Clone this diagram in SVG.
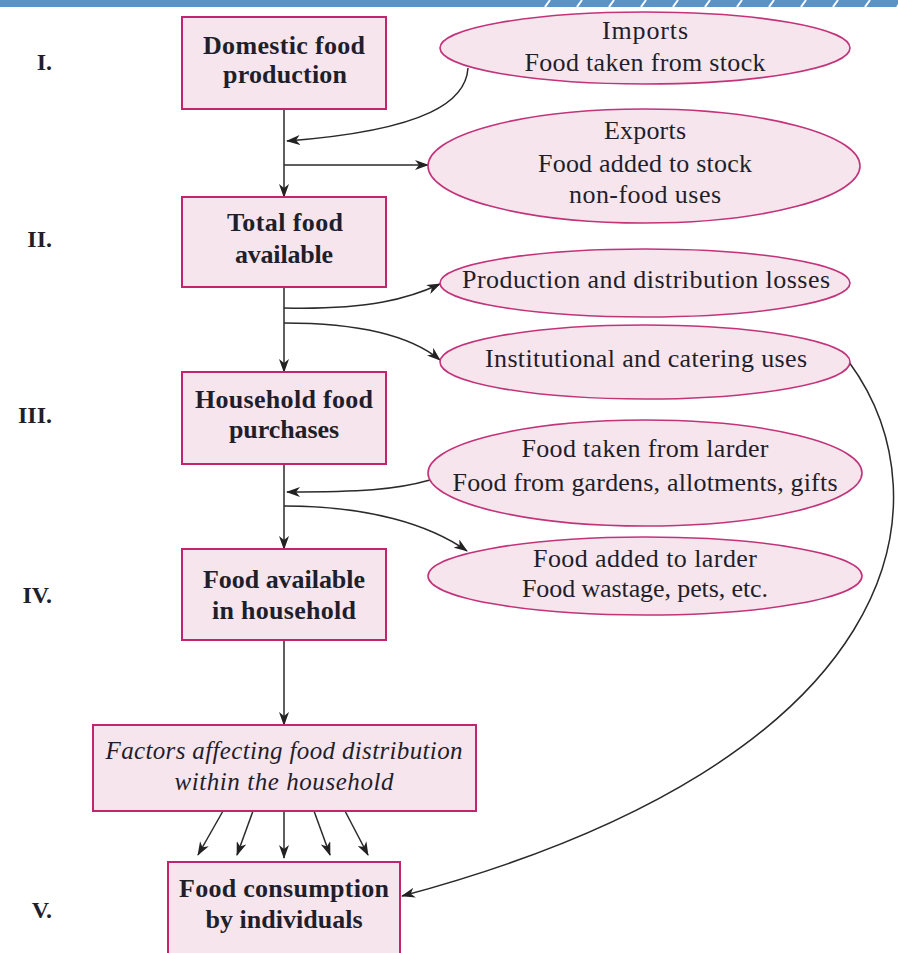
<svg xmlns="http://www.w3.org/2000/svg" width="898" height="953" viewBox="0 0 898 953">
  <defs>
    <marker id="arrow" markerUnits="userSpaceOnUse" markerWidth="14" markerHeight="10" refX="13" refY="5" orient="auto">
      <path d="M0,0 L14,5 L0,10 L4,5 z" fill="#222"/>
    </marker>
    <style>
      .box { fill: #f6e5ec; stroke: #c2246e; stroke-width: 2; }
      .oval { fill: #f6e5ec; stroke: #c2337a; stroke-width: 1.6; }
      .lbl { font-family: "Liberation Serif", "Times New Roman", serif; fill: #1f1f2c; text-anchor: middle; }
      .bold { font-size: 26px; font-weight: bold; }
      .reg { font-size: 26px; }
      .ital { font-size: 25px; font-style: italic; }
      .num { font-family: "Liberation Serif", "Times New Roman", serif; font-size: 24px; font-weight: bold; fill: #1f1f2c; text-anchor: end; }
      .conn path, .conn line { fill: none; stroke: #2a2a2a; stroke-width: 1.5; }
      .dash { stroke: #ffffff; stroke-width: 2; }
    </style>
  </defs>

  <!-- page header band -->
  <g id="header">
    <rect x="0" y="0" width="898" height="7" fill="#5a93c8"/>
    <g class="dash">
      <line x1="545" y1="7" x2="550" y2="0"/>
      <line x1="577" y1="7" x2="582" y2="0"/>
      <line x1="609" y1="7" x2="614" y2="0"/>
      <line x1="641" y1="7" x2="646" y2="0"/>
      <line x1="673" y1="7" x2="678" y2="0"/>
      <line x1="705" y1="7" x2="710" y2="0"/>
      <line x1="737" y1="7" x2="742" y2="0"/>
      <line x1="769" y1="7" x2="774" y2="0"/>
      <line x1="801" y1="7" x2="806" y2="0"/>
      <line x1="833" y1="7" x2="838" y2="0"/>
      <line x1="865" y1="7" x2="870" y2="0"/>
      <line x1="897" y1="7" x2="902" y2="0"/>
    </g>
  </g>

  <!-- stage numerals -->
  <g id="stages">
    <text class="num" x="52" y="70">I.</text>
    <text class="num" x="52" y="247">II.</text>
    <text class="num" x="52" y="423">III.</text>
    <text class="num" x="52" y="603">IV.</text>
    <text class="num" x="52" y="918">V.</text>
  </g>

  <!-- connectors -->
  <g id="connectors" class="conn">
    <line x1="284" y1="109" x2="284" y2="197" marker-end="url(#arrow)"/>
    <path d="M468,68 C466,100 430,130 287,141" marker-end="url(#arrow)"/>
    <line x1="284" y1="165" x2="428" y2="165" marker-end="url(#arrow)"/>
    <line x1="284" y1="287" x2="284" y2="372" marker-end="url(#arrow)"/>
    <path d="M284,308 C370,310 410,298 440,284" marker-end="url(#arrow)"/>
    <path d="M284,323 C360,323 410,335 440,360" marker-end="url(#arrow)"/>
    <line x1="284" y1="464" x2="284" y2="549" marker-end="url(#arrow)"/>
    <path d="M430,480 C395,490 360,492 287,492" marker-end="url(#arrow)"/>
    <path d="M284,506 C370,506 430,525 467,551" marker-end="url(#arrow)"/>
    <line x1="284" y1="640" x2="284" y2="725" marker-end="url(#arrow)"/>
    <line x1="223" y1="811" x2="198" y2="855" marker-end="url(#arrow)"/>
    <line x1="253" y1="811" x2="237" y2="855" marker-end="url(#arrow)"/>
    <line x1="284" y1="811" x2="284" y2="858" marker-end="url(#arrow)"/>
    <line x1="314" y1="811" x2="330" y2="855" marker-end="url(#arrow)"/>
    <line x1="345" y1="811" x2="368" y2="855" marker-end="url(#arrow)"/>
    <path d="M849,362 C950,500 910,760 402,896" marker-end="url(#arrow)"/>
  </g>

  <!-- main flow boxes -->
  <g id="domestic-production">
    <rect class="box" x="182" y="17" width="204" height="92"/>
    <text class="lbl bold" x="284" y="54" textLength="162" lengthAdjust="spacing">Domestic food</text>
    <text class="lbl bold" x="285" y="83" textLength="124" lengthAdjust="spacing">production</text>
  </g>
  <g id="total-available">
    <rect class="box" x="182" y="197" width="204" height="90"/>
    <text class="lbl bold" x="285" y="231" textLength="116" lengthAdjust="spacing">Total food</text>
    <text class="lbl bold" x="284" y="263" textLength="98" lengthAdjust="spacing">available</text>
  </g>
  <g id="household-purchases">
    <rect class="box" x="182" y="372" width="204" height="92"/>
    <text class="lbl bold" x="284" y="408" textLength="178" lengthAdjust="spacing">Household food</text>
    <text class="lbl bold" x="284" y="438" textLength="110" lengthAdjust="spacing">purchases</text>
  </g>
  <g id="household-available">
    <rect class="box" x="182" y="549" width="204" height="91"/>
    <text class="lbl bold" x="284" y="588" textLength="162" lengthAdjust="spacing">Food available</text>
    <text class="lbl bold" x="284" y="619" textLength="144" lengthAdjust="spacing">in household</text>
  </g>
  <g id="distribution-factors">
    <rect class="box" x="93" y="725" width="383" height="86"/>
    <text class="lbl ital" x="284" y="759" textLength="357" lengthAdjust="spacing">Factors affecting food distribution</text>
    <text class="lbl ital" x="284" y="790" textLength="219" lengthAdjust="spacing">within the household</text>
  </g>
  <g id="individual-consumption">
    <rect class="box" x="168" y="862" width="232" height="100"/>
    <text class="lbl bold" x="284" y="897" textLength="210" lengthAdjust="spacing">Food consumption</text>
    <text class="lbl bold" x="284" y="928" textLength="157" lengthAdjust="spacing">by individuals</text>
  </g>

  <!-- side flows -->
  <g id="imports">
    <ellipse class="oval" cx="645" cy="48" rx="205" ry="36"/>
    <text class="lbl reg" x="645" y="39" textLength="86" lengthAdjust="spacing">Imports</text>
    <text class="lbl reg" x="645" y="71" textLength="241" lengthAdjust="spacing">Food taken from stock</text>
  </g>
  <g id="exports">
    <ellipse class="oval" cx="644" cy="166" rx="216" ry="57"/>
    <text class="lbl reg" x="645" y="139" textLength="82" lengthAdjust="spacing">Exports</text>
    <text class="lbl reg" x="645" y="172" textLength="214" lengthAdjust="spacing">Food added to stock</text>
    <text class="lbl reg" x="645" y="203" textLength="152" lengthAdjust="spacing">non-food uses</text>
  </g>
  <g id="losses">
    <ellipse class="oval" cx="645" cy="283" rx="205" ry="34"/>
    <text class="lbl reg" x="646" y="288" textLength="368" lengthAdjust="spacing">Production and distribution losses</text>
  </g>
  <g id="institutional">
    <ellipse class="oval" cx="645" cy="362" rx="205" ry="37"/>
    <text class="lbl reg" x="646" y="367" textLength="322" lengthAdjust="spacing">Institutional and catering uses</text>
  </g>
  <g id="larder-in">
    <ellipse class="oval" cx="645" cy="473" rx="217" ry="53"/>
    <text class="lbl reg" x="645" y="457" textLength="247" lengthAdjust="spacing">Food taken from larder</text>
    <text class="lbl reg" x="645" y="491" textLength="385" lengthAdjust="spacing">Food from gardens, allotments, gifts</text>
  </g>
  <g id="larder-out">
    <ellipse class="oval" cx="645" cy="576" rx="217" ry="39"/>
    <text class="lbl reg" x="645" y="567" textLength="224" lengthAdjust="spacing">Food added to larder</text>
    <text class="lbl reg" x="645" y="597" textLength="246" lengthAdjust="spacing">Food wastage, pets, etc.</text>
  </g>
</svg>
